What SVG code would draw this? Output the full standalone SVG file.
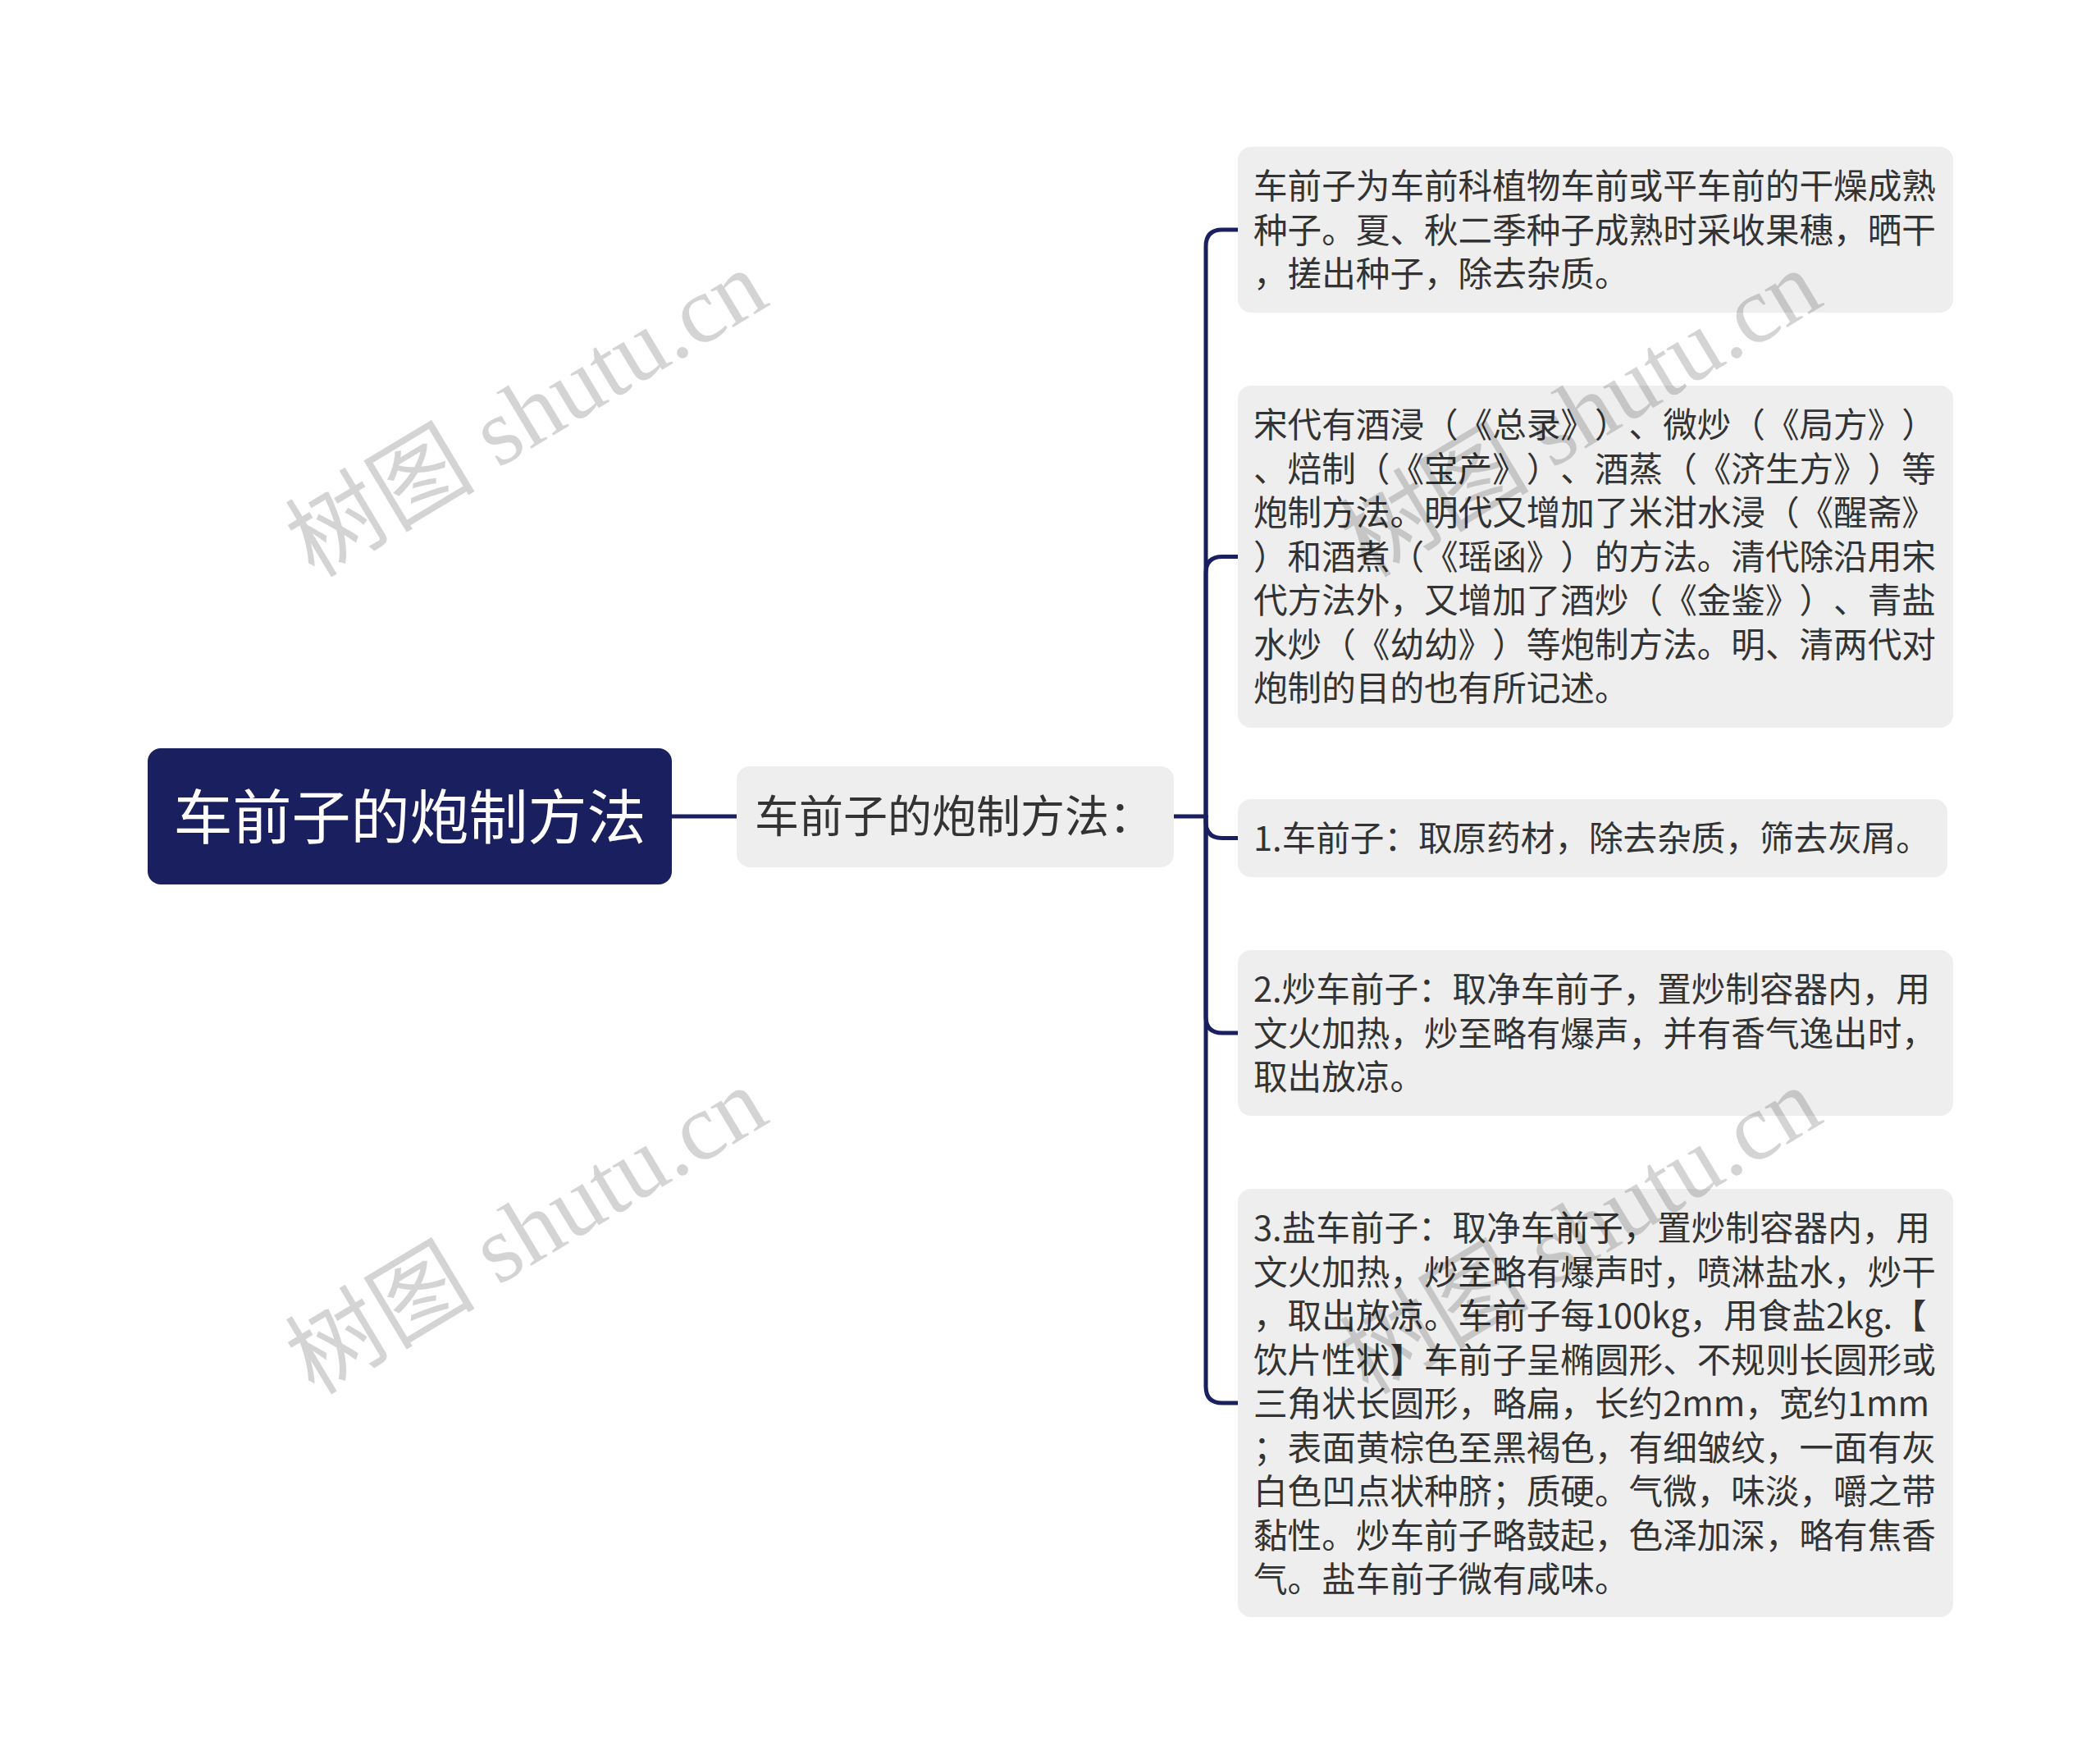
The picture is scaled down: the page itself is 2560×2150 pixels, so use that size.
<svg xmlns="http://www.w3.org/2000/svg" width="2560" height="2150" viewBox="0 0 2560 2150">
<style>
text{text-spacing-trim:space-all;font-kerning:none}
.root{fill:#1a1f5f}
.rootT{fill:#ffffff;font-family:"Noto Sans CJK SC","Liberation Sans",sans-serif;font-size:72px}
.box{fill:#eeeeee}
.subT{fill:#333333;font-family:"Noto Sans CJK SC","Liberation Sans",sans-serif;font-size:54px}
.t{fill:#333333;font-family:"Noto Sans CJK SC","Liberation Sans",sans-serif;font-size:41.6px}
.conn{fill:none;stroke:#1a1f5f;stroke-width:5;stroke-linecap:round;stroke-linejoin:round}
.wm{fill:#000000;fill-opacity:0.17;font-family:"Liberation Serif","Noto Sans CJK SC",serif;font-size:116px}
</style>
<rect width="2560" height="2150" fill="#ffffff"/>
<g id="connectors">
<path class="conn" d="M819,995 L898,995"/>
<path class="conn" d="M1431,995 L1470,995"/>
<path class="conn" d="M1470,995 L1470,300 Q1470,280 1490,280 L1509,280"/>
<path class="conn" d="M1470,995 L1470,698.5 Q1470,678.5 1490,678.5 L1509,678.5"/>
<path class="conn" d="M1470,995 L1470,1001.5 Q1470,1021.5 1490,1021.5 L1509,1021.5"/>
<path class="conn" d="M1470,995 L1470,1239 Q1470,1259 1490,1259 L1509,1259"/>
<path class="conn" d="M1470,995 L1470,1690 Q1470,1710 1490,1710 L1509,1710"/>
</g>
<g id="root">
<rect class="root" x="180" y="912" width="639" height="166" rx="16"/>
<text class="rootT" x="499.5" y="1022" text-anchor="middle">车前子的炮制方法</text>
</g>
<g id="sub">
<rect class="box" x="898" y="934" width="533" height="123" rx="16"/>
<text class="subT" x="920" y="1015">车前子的炮制方法：</text>
</g>
<g id="n1">
<rect class="box" x="1509" y="179" width="872" height="202" rx="16"/>
<text class="t" x="1528" y="242">车前子为车前科植物车前或平车前的干燥成熟</text>
<text class="t" x="1528" y="295.5">种子。夏、秋二季种子成熟时采收果穗，晒干</text>
<text class="t" x="1528" y="349">，搓出种子，除去杂质。</text>
</g>
<g id="n2">
<rect class="box" x="1509" y="470" width="872" height="417" rx="16"/>
<text class="t" x="1528" y="533">宋代有酒浸（《总录》）、微炒（《局方》）</text>
<text class="t" x="1528" y="586.5">、焙制（《宝产》）、酒蒸（《济生方》）等</text>
<text class="t" x="1528" y="640">炮制方法。明代又增加了米泔水浸（《醒斋》</text>
<text class="t" x="1528" y="693.5">）和酒煮（《瑶函》）的方法。清代除沿用宋</text>
<text class="t" x="1528" y="747">代方法外，又增加了酒炒（《金鉴》）、青盐</text>
<text class="t" x="1528" y="800.5">水炒（《幼幼》）等炮制方法。明、清两代对</text>
<text class="t" x="1528" y="854">炮制的目的也有所记述。</text>
</g>
<g id="n3">
<rect class="box" x="1509" y="974" width="865" height="95" rx="16"/>
<text class="t" x="1528" y="1037">1.车前子：取原药材，除去杂质，筛去灰屑。</text>
</g>
<g id="n4">
<rect class="box" x="1509" y="1158" width="872" height="202" rx="16"/>
<text class="t" x="1528" y="1221">2.炒车前子：取净车前子，置炒制容器内，用</text>
<text class="t" x="1528" y="1274.5">文火加热，炒至略有爆声，并有香气逸出时，</text>
<text class="t" x="1528" y="1328">取出放凉。</text>
</g>
<g id="n5">
<rect class="box" x="1509" y="1449" width="872" height="522" rx="16"/>
<text class="t" x="1528" y="1512">3.盐车前子：取净车前子，置炒制容器内，用</text>
<text class="t" x="1528" y="1565.5">文火加热，炒至略有爆声时，喷淋盐水，炒干</text>
<text class="t" x="1528" y="1619">，取出放凉。车前子每100kg，用食盐2kg.【</text>
<text class="t" x="1528" y="1672.5">饮片性状】车前子呈椭圆形、不规则长圆形或</text>
<text class="t" x="1528" y="1726">三角状长圆形，略扁，长约2mm，宽约1mm</text>
<text class="t" x="1528" y="1779.5">；表面黄棕色至黑褐色，有细皱纹，一面有灰</text>
<text class="t" x="1528" y="1833">白色凹点状种脐；质硬。气微，味淡，嚼之带</text>
<text class="t" x="1528" y="1886.5">黏性。炒车前子略鼓起，色泽加深，略有焦香</text>
<text class="t" x="1528" y="1940">气。盐车前子微有咸味。</text>
</g>
<g id="watermarks">
<text class="wm" x="662" y="538" text-anchor="middle" transform="rotate(-31 662 538)">树图 shutu.cn</text>
<text class="wm" x="662" y="1534" text-anchor="middle" transform="rotate(-31 662 1534)">树图 shutu.cn</text>
<text class="wm" x="1947" y="538" text-anchor="middle" transform="rotate(-31 1947 538)">树图 shutu.cn</text>
<text class="wm" x="1947" y="1534" text-anchor="middle" transform="rotate(-31 1947 1534)">树图 shutu.cn</text>
</g>
</svg>
